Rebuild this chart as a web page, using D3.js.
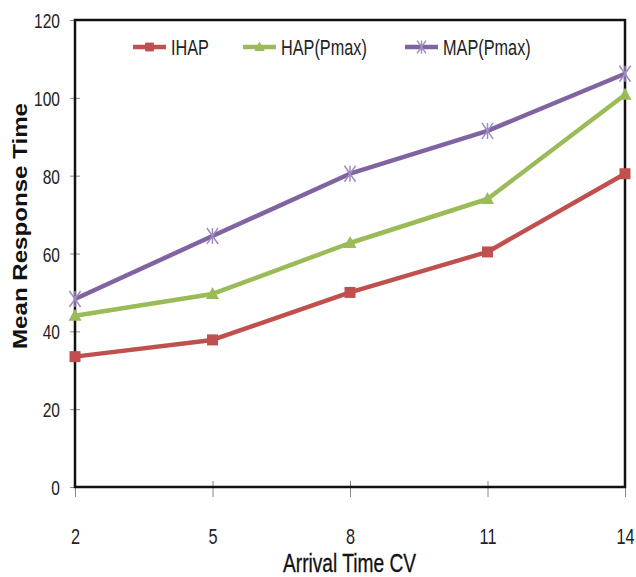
<!DOCTYPE html>
<html><head><meta charset="utf-8">
<script src="https://cdn.jsdelivr.net/npm/d3@7"></script>
<style>body{margin:0;background:#fff}svg{display:block}</style>
</head><body>
<script>
const categories = ["2","5","8","11","14"];
const yTicks = [0,20,40,60,80,100,120];
const ihap = [33.5, 37.8, 50, 60.4, 80.5];
const hap = [44, 49.6, 62.7, 74, 100.8];
const map = [48.3, 64.5, 80.5, 91.5, 106.2];
const seriesNames = ["IHAP","HAP(Pmax)","MAP(Pmax)"];

const W=636,H=577;
const svg=d3.select("body").append("svg").attr("width",W).attr("height",H);
const x=d3.scalePoint().domain(categories).range([75,625]);
const y=d3.scaleLinear().domain([0,120]).range([487,20]);
const font="'Liberation Sans',Arial,sans-serif";
const SX=0.74;
function squeeze(sel){
  sel.each(function(){
    const t=d3.select(this);
    const tx=+(t.attr("x")||0);
    t.attr("transform",`translate(${tx},0) scale(${SX},1) translate(${-tx},0)`);
  });
}

// axes
const yAx=svg.append("g").attr("transform","translate(75,0)")
 .call(d3.axisLeft(y).tickValues(yTicks).tickSizeInner(5).tickSizeOuter(0).tickPadding(10));
yAx.selectAll(".tick line").attr("x2",5).attr("x1",-5).attr("stroke","#888");
yAx.select(".domain").remove();
yAx.selectAll("text").attr("font-family",font).attr("font-size",21).attr("fill","#222").attr("dy","0.36em").call(squeeze);
const xAx=svg.append("g").attr("transform","translate(0,487)")
 .call(d3.axisBottom(x).tickSizeInner(10).tickSizeOuter(0).tickPadding(31));
xAx.selectAll(".tick line").attr("y1",-6).attr("y2",10).attr("stroke","#888");
xAx.select(".domain").remove();
xAx.selectAll("text").attr("font-family",font).attr("font-size",22).attr("fill","#222").call(squeeze);

// frame
svg.append("rect").attr("x",75).attr("y",20).attr("width",550).attr("height",467)
 .attr("fill","none").attr("stroke","#111").attr("stroke-width",2.5);

const cols=["#C0504D","#9BBB59","#8064A2"];
const data=[ihap,hap,map];
const line=d3.line().x((d,i)=>x(categories[i])).y(d=>y(d));
function marker(g,type,cx,cy,c,s){
  s=s||1;
  if(type===0) g.append("rect").attr("x",cx-5.5*s).attr("y",cy-5.5*s).attr("width",11*s).attr("height",11*s).attr("fill",c);
  else if(type===1) g.append("path").attr("d",`M${cx},${cy-7*s}L${cx+6.5*s},${cy+5*s}L${cx-6.5*s},${cy+5*s}Z`).attr("fill",c);
  else {
    const r=8*s;
    g.append("path").attr("d",`M${cx-r*0.7},${cy-r}L${cx+r*0.7},${cy+r}M${cx+r*0.7},${cy-r}L${cx-r*0.7},${cy+r}M${cx},${cy-r}L${cx},${cy+r}`)
     .attr("stroke","#9E8CC4").attr("stroke-width",1.5).attr("fill","none");
  }
}
data.forEach((s,k)=>{
  const g=svg.append("g");
  g.append("path").datum(s).attr("d",line).attr("fill","none").attr("stroke",cols[k]).attr("stroke-width",4.5).attr("stroke-linejoin","round");
  s.forEach((v,i)=>marker(g,k,x(categories[i]),y(v),cols[k]));
});

// legend
const lx=[133,243,405];
seriesNames.forEach((n,k)=>{
  const g=svg.append("g");
  g.append("line").attr("x1",lx[k]).attr("x2",lx[k]+33).attr("y1",47).attr("y2",47).attr("stroke",cols[k]).attr("stroke-width",4.5);
  marker(g,k,lx[k]+16.5,47,cols[k],0.8);
  const t=g.append("text").attr("x",lx[k]+38).attr("y",55).attr("font-family",font).attr("font-size",22).attr("fill","#222").text(n);
  squeeze(t);
});

// titles
svg.append("text").attr("transform","translate(27,226) rotate(-90)").attr("text-anchor","middle")
 .attr("font-family",font).attr("font-weight","bold").attr("font-size",21)
 .attr("textLength",246).attr("lengthAdjust","spacingAndGlyphs").attr("fill","#111").text("Mean Response Time");
svg.append("text").attr("x",283).attr("y",572)
 .attr("font-family",font).attr("font-size",26).attr("textLength",133).attr("lengthAdjust","spacingAndGlyphs")
 .attr("fill","#111").attr("stroke","#111").attr("stroke-width",0.3).text("Arrival Time CV");
</script>
</body></html>
